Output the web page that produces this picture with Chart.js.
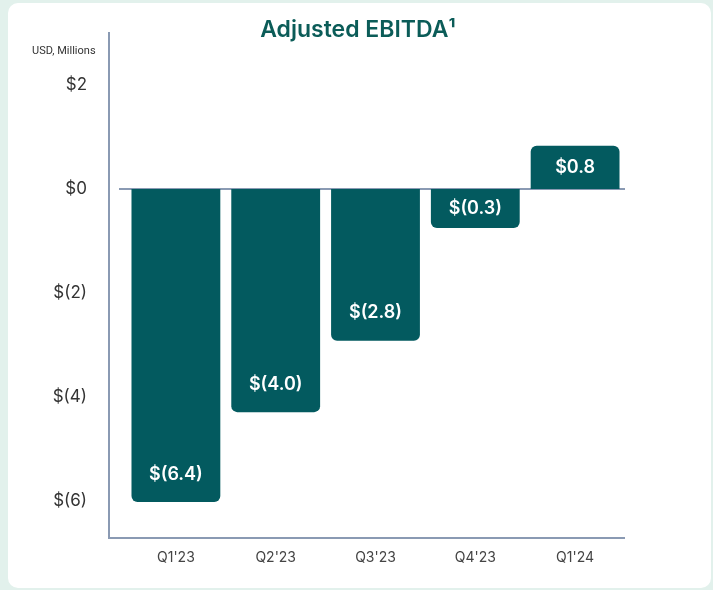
<!DOCTYPE html>
<html>
<head>
<meta charset="utf-8">
<script src="https://cdn.jsdelivr.net/npm/chart.js@4.4.1/dist/chart.umd.min.js"></script>
<style>
  html, body { margin: 0; padding: 0; }
  body { width: 713px; height: 590px; background: #e2f1ec; position: relative; overflow: hidden; }
  #card { position: absolute; left: 8px; top: 3px; width: 703px; height: 585px; background: #fff; border-radius: 10px; }
  #wrap { position: absolute; left: 0; top: 0; width: 713px; height: 590px; }
</style>
</head>
<body>
<div id="card"></div>
<div id="wrap"><canvas id="myChart"></canvas></div>
<script>
var quarters = ["Q1'23", "Q2'23", "Q3'23", "Q4'23", "Q1'24"];
// bar lengths as they are drawn (the small bars are stretched so the label fits)
var barValues = [-6.02, -4.29, -2.92, -0.75, 0.83];
// values printed on the bars
var barLabels = ['$(6.4)', '$(4.0)', '$(2.8)', '$(0.3)', '$0.8'];
var yTicks = [2, 0, -2, -4, -6];

var tealDark = '#035a5f';
var axisColor = '#8a9ab3';

function money(v) {
    return v < 0 ? '$(' + (-v) + ')' : '$' + v;
}

// title, axis lines, zero line, unit note and the value labels inside the bars
var extras = {
    id: 'extras',
    beforeDatasetsDraw(chart) {
        var ctx = chart.ctx;
        var a = chart.chartArea;
        var y0 = chart.scales.y.getPixelForValue(0);
        ctx.save();
        ctx.strokeStyle = axisColor;
        ctx.lineWidth = 2;
        ctx.beginPath();
        ctx.moveTo(a.left - 17, a.top - 28);
        ctx.lineTo(a.left - 17, a.bottom);
        ctx.lineTo(a.right, a.bottom);
        ctx.stroke();
        ctx.beginPath();
        ctx.moveTo(a.left - 7, y0);
        ctx.lineTo(a.right, y0);
        ctx.stroke();

        ctx.font = '11px Roboto';
        ctx.fillStyle = '#333';
        ctx.textAlign = 'left';
        ctx.textBaseline = 'middle';
        ctx.fillText('USD, Millions', 32, 51);

        ctx.font = '600 23px Inter';
        ctx.fillStyle = '#0b5c58';
        ctx.textAlign = 'center';
        ctx.fillText('Adjusted EBITDA\u00b9', 358, 30);
        ctx.restore();
    },
    afterDatasetsDraw(chart) {
        var ctx = chart.ctx;
        var meta = chart.getDatasetMeta(0);
        ctx.save();
        ctx.font = '600 18px Inter';
        ctx.fillStyle = '#fff';
        ctx.textAlign = 'center';
        ctx.textBaseline = 'middle';
        meta.data.forEach(function (bar, i) {
            var h = bar.base - bar.y;
            var y;
            if (Math.abs(h) < 60) {
                y = (bar.y + bar.base) / 2;
            } else {
                y = bar.y + (h > 0 ? 28 : -28);
            }
            ctx.fillText(barLabels[i], bar.x, y);
        });
        ctx.restore();
    }
};

window.onload = () => {
    var ctx = document.getElementById('myChart').getContext('2d');
    var myChart = new Chart(ctx, {
        type: 'bar',
        data: {
            labels: quarters,
            datasets: [{
                data: barValues,
                backgroundColor: tealDark,
                borderRadius: 6,
                borderSkipped: 'start',
                barPercentage: 0.89,
                categoryPercentage: 1.0
            }]
        },
        options: {
            responsive: true,
            maintainAspectRatio: false,
            animation: false,
            devicePixelRatio: 1,
            layout: { padding: { left: 0, right: 88, top: 60, bottom: 0 } },
            plugins: {
                legend: { display: false },
                tooltip: { enabled: false },
                title: { display: false }
            },
            scales: {
                x: {
                    grid: { display: false, drawTicks: false },
                    border: { display: false },
                    ticks: {
                        color: '#444',
                        font: { family: 'Inter', size: 14 },
                        padding: 11,
                        maxRotation: 0
                    },
                    afterFit: function (s) { s.height = 52; }
                },
                y: {
                    min: -6.71,
                    max: 2.48,
                    grid: { display: false, drawTicks: false },
                    border: { display: false },
                    ticks: {
                        color: '#333',
                        font: { family: 'Inter', size: 17 },
                        padding: 39,
                        callback: function (v) { return money(v); }
                    },
                    afterBuildTicks: function (s) {
                        s.ticks = yTicks.map(function (v) { return { value: v }; });
                    },
                    afterFit: function (s) { s.width = 126; }
                }
            }
        },
        plugins: [extras]
    });
};
</script>
</body>
</html>
